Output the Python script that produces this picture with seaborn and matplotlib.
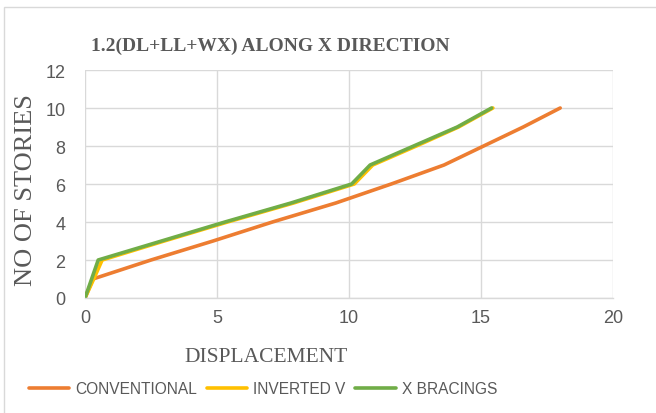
import matplotlib
matplotlib.use("Agg")
import matplotlib.pyplot as plt
import seaborn as sns
import pandas as pd
from matplotlib.patches import Rectangle

# Storey levels and lateral displacement of each frame type
stories = [0, 1, 2, 3, 4, 5, 6, 7, 8, 9, 10]
conventional = [0, 0.3, 2.5, 4.85, 7.1, 9.5, 11.6, 13.6, 15.1, 16.6, 18.0]
inverted_v = [0, 0.33, 0.65, 3.0, 5.4, 7.9, 10.2, 10.9, 12.55, 14.15, 15.45]
x_bracings = [0, 0.25, 0.5, 2.9, 5.3, 7.8, 10.1, 10.8, 12.45, 14.1, 15.4]

series_names = ["CONVENTIONAL", "INVERTED V", "X BRACINGS"]
series_colors = ["#ED7D31", "#FFC000", "#70AD47"]
x_ticks = [0, 5, 10, 15, 20]
y_ticks = [0, 2, 4, 6, 8, 10, 12]

frames = []
for name, vals in zip(series_names, [conventional, inverted_v, x_bracings]):
    frames.append(pd.DataFrame({"Displacement": vals, "Story": stories, "Type": name}))
df = pd.concat(frames, ignore_index=True)

sns.set_theme(style="white")
plt.rcParams["font.family"] = ["Liberation Sans", "DejaVu Sans"]

W, H = 656, 414
fig = plt.figure(figsize=(W / 100, H / 100), dpi=100)
ax = fig.add_axes([85 / W, 1 - 299 / H, (613 - 85) / W, (299 - 71) / H])

sns.lineplot(data=df, x="Displacement", y="Story", hue="Type", hue_order=series_names,
             palette=series_colors, sort=False, linewidth=2.6, ax=ax, legend=False,
             estimator=None)

ax.set_xlim(0, 20)
ax.set_ylim(0, 12)
ax.set_xticks(x_ticks)
ax.set_yticks(y_ticks)
ax.set_xticklabels([str(t) for t in x_ticks])
ax.set_yticklabels([str(t) for t in y_ticks])
ax.grid(True, color="#D9D9D9", linewidth=1.0)
ax.set_axisbelow(True)
for side in ["top", "right", "left"]:
    ax.spines[side].set_visible(False)
ax.spines["bottom"].set_color("#D9D9D9")
ax.spines["bottom"].set_linewidth(1.0)
ax.tick_params(axis="both", length=0, labelsize=13, colors="#595959", pad=8)
ax.tick_params(axis="y", pad=14)
ax.set_xlabel("")
ax.set_ylabel("")

serif = ["Liberation Serif", "DejaVu Serif"]
fig.text(270 / W, 1 - 46 / H, "1.2(DL+LL+WX) ALONG X DIRECTION", ha="center", va="center",
         fontsize=14, fontweight="bold", color="#595959", family=serif)
fig.text(266 / W, 1 - 357 / H, "DISPLACEMENT", ha="center", va="center",
         fontsize=15.5, color="#595959", family=serif)
fig.text(26 / W, 1 - 190 / H, "NO OF STORIES", ha="center", va="center", rotation=90,
         fontsize=19, color="#595959", family=serif)

handles = [plt.Line2D([], [], color=c, linewidth=2.6) for c in series_colors]
fig.legend(handles, series_names, loc="center", bbox_to_anchor=(263 / W, 1 - 390 / H),
           ncol=3, frameon=False, fontsize=11.2, labelcolor="#595959", handlelength=2.6,
           handletextpad=0.4, columnspacing=0.6)

fig.patches.append(Rectangle((4 / W, -0.1), 1.2, 1.1 - 8 / H, transform=fig.transFigure,
                             fill=False, edgecolor="#D9D9D9", linewidth=1.0))

fig.savefig("out.png", dpi=100, facecolor="white")
